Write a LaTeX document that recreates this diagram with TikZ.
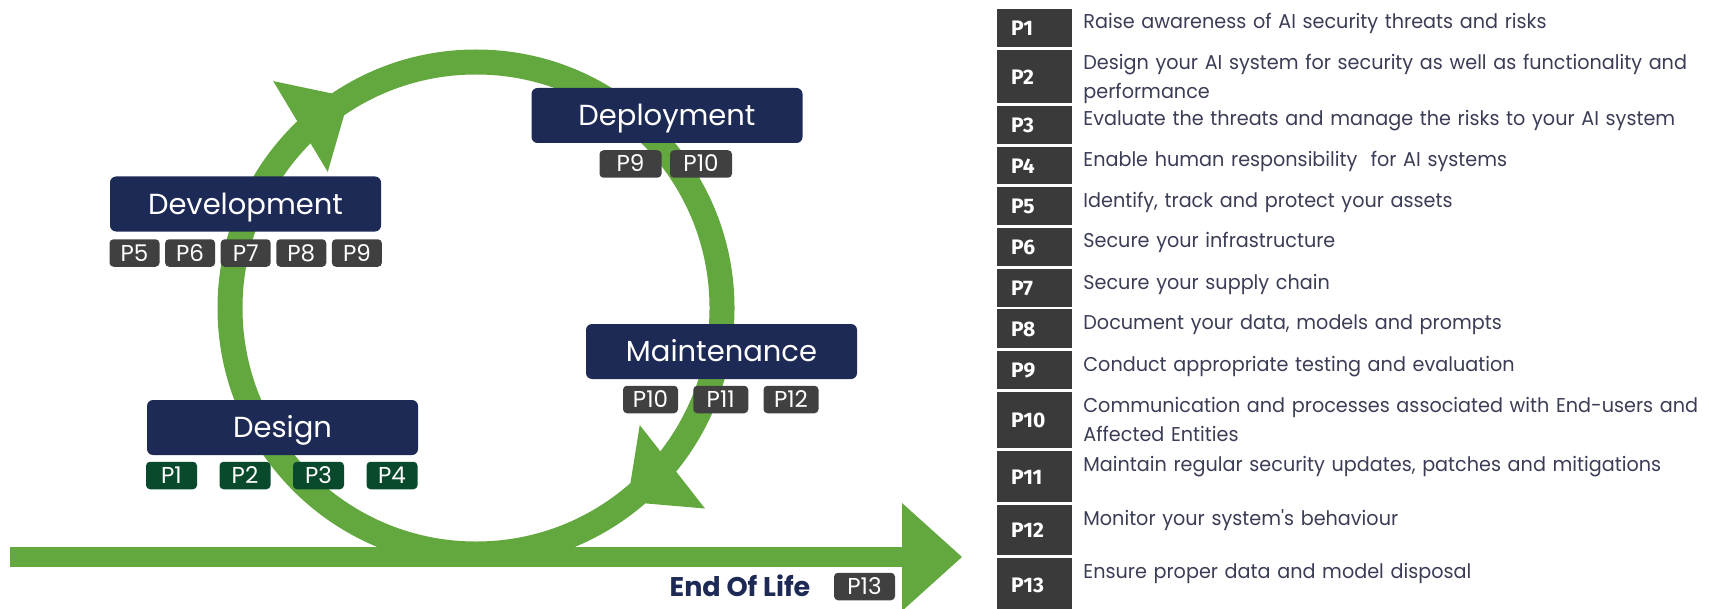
\documentclass[tikz,border=0pt]{standalone}
\usepackage{fontspec}
\setmainfont{Poppins}
\newfontfamily\listfont[FakeStretch=0.96]{Poppins}
\newfontfamily\numfont{Fira Sans}
\usetikzlibrary{calc}

\definecolor{leaf}{RGB}{99,168,62}
\definecolor{navy}{RGB}{30,42,86}
\definecolor{slate}{RGB}{64,64,64}
\definecolor{pine}{RGB}{10,74,44}
\definecolor{ink}{RGB}{58,61,85}
\definecolor{coal}{RGB}{58,58,58}

\begin{document}
\begin{tikzpicture}[x=0.5pt,y=-0.5pt,
  phase/.style={rectangle,rounded corners=3pt,fill=navy,text=white,
    minimum width=135.5pt,minimum height=27.5pt,inner sep=0pt,
    text height=10.2pt,text depth=0pt,font=\fontsize{14.5}{17}\selectfont},
  tag/.style={rectangle,rounded corners=2pt,fill=slate,text=white,
    minimum height=13.75pt,inner sep=0pt,text height=8pt,text depth=0pt,
    font=\fontsize{11.5}{13}\selectfont},
  pnum/.style={rectangle,fill=coal,text=white,inner xsep=7pt,inner ysep=0pt,
    text width=23.5pt,align=left,anchor=north,
    font=\numfont\bfseries\fontsize{10.5}{12}\selectfont},
  ptext/.style={anchor=base west,inner sep=0pt,text width=340pt,text=ink,
    font=\listfont\fontsize{10}{14.5}\selectfont},
  ring/.style={draw=leaf,line width=12.5pt}]
\useasboundingbox (0,0) rectangle (1732,609);

% life cycle loop
\coordinate (c) at (476,308);
\draw[ring] (c) circle[radius=123pt];
\foreach \a in {239,52}
  \fill[leaf] ($(c)+(\a:246)$) -- ($(c)+(\a:299)+(\a-90:57)$)
    -- ($(c)+(\a:193)+(\a-90:57)$) -- cycle;

% end of life line
\coordinate (start) at (10,557);
\coordinate (base) at (903,557);
\coordinate (tip) at (962,557);
\draw[leaf,line width=10pt] (start) -- (base);
\fill[leaf] ($(base)+(-1,-54)$) -- (tip) -- ($(base)+(-1,54)$) -- cycle;

% phases
\node[phase] (dev) at (245.5,204) {Development};
\node[phase] (des) at (282.5,427.5) {Design};
\node[phase] (dep) at (667,115.5) {Deployment};
\node[phase] (mnt) at (721.5,351.5) {Maintenance};

\foreach \n [count=\i] in {5,...,9}
  \node[tag,minimum width=25pt] (dev\n) at ({134.5+55.6*(\i-1)},253) {P\n};
\foreach \n [count=\i] in {1,...,4}
  \node[tag,fill=pine,minimum width=25.5pt] (des\n) at ({171.5+73.5*(\i-1)},475.5) {P\n};
\foreach \n [count=\i] in {9,10}
  \node[tag,minimum width=31pt] (dep\n) at ({630.5+70.5*(\i-1)},164) {P\n};
\foreach \n [count=\i] in {10,11,12}
  \node[tag,minimum width=27.5pt] (mnt\n) at ({650.5+70.25*(\i-1)},399.5) {P\n};

\node[text=navy,font=\bfseries\fontsize{13.5}{15}\selectfont] (eol) at (740,586) {End Of Life};
\node[tag,minimum width=30.5pt] (eol13) at (864.5,586.5) {P13};

% principles
\foreach \n/\ra/\rb/\txt in {
  1/9/47/{Raise awareness of AI security threats and risks},
  2/50/103/{Design your AI system for security as well as functionality and\\performance},
  3/106/144/{Evaluate the threats and manage the risks to your AI system},
  4/147/184/{Enable human responsibility\ \ for AI systems},
  5/187/225/{Identify, track and protect your assets},
  6/228/266/{Secure your infrastructure},
  7/269/307/{Secure your supply chain},
  8/309/348/{Document your data, models and prompts},
  9/351/389/{Conduct appropriate testing and evaluation},
  10/392/448/{Communication and processes associated with End-users and\\Affected Entities},
  11/451/502/{Maintain regular security updates, patches and mitigations},
  12/505/555/{Monitor your system's behaviour},
  13/558/612/{Ensure proper data and model disposal}}
{
  \node[pnum,minimum height={0.5pt*(\rb-\ra)}] (p\n) at (1034.5,\ra) {P\n};
  \node[ptext] (t\n) at (1083,\ra+20) {\txt};
}
\end{tikzpicture}
\end{document}
